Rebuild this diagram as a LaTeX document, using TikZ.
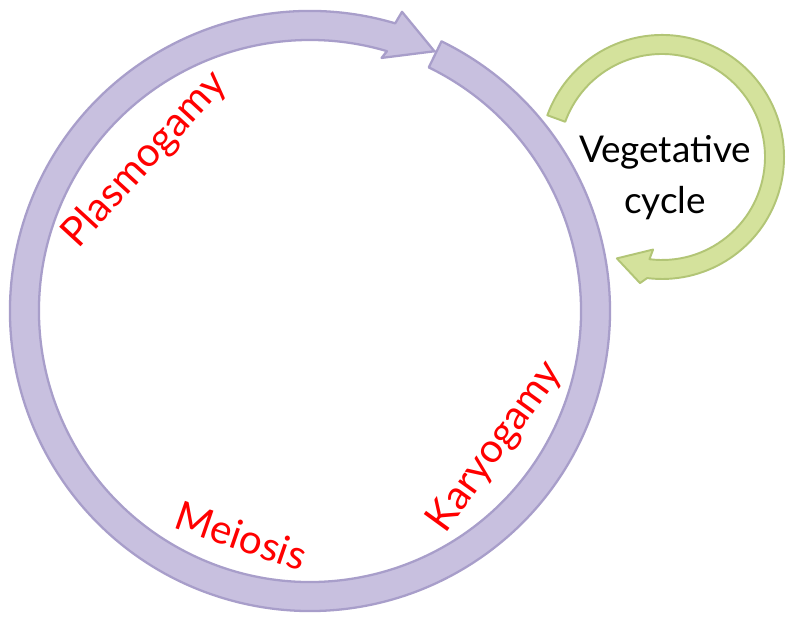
\documentclass[tikz,border=0pt]{standalone}
\usepackage{fontspec}
\setmainfont{Lato}
\usepackage{tikz}
\usetikzlibrary{positioning}

\definecolor{ringfill}{RGB}{200,192,223}
\definecolor{ringline}{RGB}{168,158,202}
\definecolor{vegfill}{RGB}{212,226,156}
\definecolor{vegline}{RGB}{178,197,118}

\begin{document}
\begin{tikzpicture}[x=0.02cm,y=0.02cm,
  bigring/.style={fill=ringfill,draw=ringline,line width=1.3pt,line join=round},
  vegring/.style={fill=vegfill,draw=vegline,line width=1.1pt,line join=round},
  stagelab/.style={text=red,font=\fontsize{23}{27}\selectfont,inner sep=0pt},
  veglab/.style={align=center,font=\fontsize{21}{29}\selectfont,inner sep=0pt}]

\useasboundingbox[fill=white] (0,0) rectangle (789,617);

% sexual cycle, clockwise
\begin{scope}[shift={(310,306)}]
\coordinate (sc) at (0,0);
\draw[bigring] (73.5:300) arc[start angle=73.5,end angle=424,radius=300]
  -- (424:271) arc[start angle=424,end angle=73.5,radius=271]
  -- (74.2:263) -- (64.4:288) -- (72.9:313) -- cycle;
\foreach \nm/\ang/\rad/\rot/\txt in {plas/137.5/224/47.5/Plasmogamy,
    mei/-107/235/-19/Meiosis, kar/-36.3/230/54/Karyogamy}
  \node[stagelab,rotate=\rot] (\nm) at (\ang:\rad) {\txt};
\end{scope}

% vegetative loop
\begin{scope}[shift={(662,460)}]
\coordinate (vc) at (0,0);
\draw[vegring] (160:122) arc[start angle=160,end angle=-97,radius=122]
  -- (-99.9:128) -- (-114:111) -- (-95.5:93)
  -- (-97:103) arc[start angle=-97,end angle=160,radius=103] -- cycle;
\node[veglab] (veg) at (3,-21) {Vegetative\\cycle};
\end{scope}
\end{tikzpicture}
\end{document}
